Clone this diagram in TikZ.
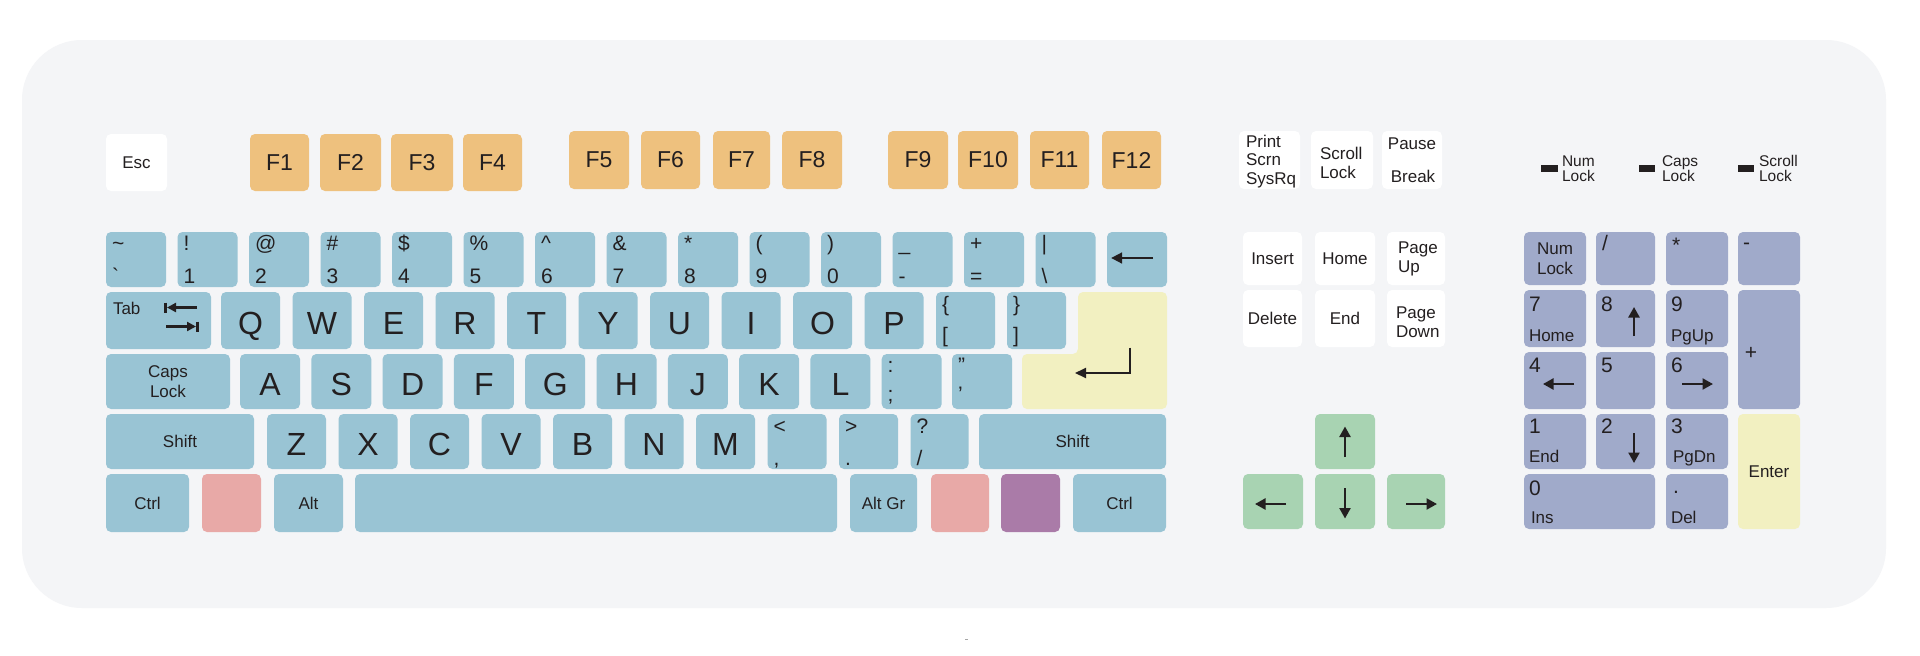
\documentclass[tikz,border=0pt]{standalone}
\usepackage{fontspec}
\setmainfont{Liberation Sans}
\usetikzlibrary{arrows.meta}
\definecolor{panel}{HTML}{F4F5F7}
\definecolor{kblue}{HTML}{99C4D4}
\definecolor{korange}{HTML}{EEC17E}
\definecolor{kyellow}{HTML}{F2F0C1}
\definecolor{kpink}{HTML}{E8A9A7}
\definecolor{kpurple}{HTML}{AA7BA8}
\definecolor{kgreen}{HTML}{A8D3B2}
\definecolor{knum}{HTML}{A0AACA}
\definecolor{ktext}{HTML}{231F20}
\newcommand\kfL{\fontsize{32}{38}\selectfont}
\newcommand\kfF{\fontsize{23}{28}\selectfont}
\newcommand\kfS{\fontsize{21}{25}\selectfont}
\newcommand\kfM{\fontsize{17}{20}\selectfont}
\newcommand\kfT{\fontsize{15.5}{16}\selectfont}
% key: name x1 y1 x2 y2 colour font text
\newcommand\kb[8]{\node[keybox,fill=#6,font=#7,minimum width=#4pt-#2pt,minimum height=#5pt-#3pt] (#1) at ({(#2+#4)/2},{(#3+#5)/2}) {#8};}
% letter key: name x1 y1 x2 y2 letter
\newcommand\lk[6]{\node[keybox,fill=kblue,font=\kfL,text height=27pt,text depth=0pt,minimum width=#4pt-#2pt,minimum height=#5pt-#3pt] (#1) at ({(#2+#4)/2},{(#3+#5)/2}) {#6};}
% dual key: name x1 y1 x2 y2 upper lower upper-offset lower-offset
\newcommand\dk[9]{\kb{#1}{#2}{#3}{#4}{#5}{kblue}{}{}
  \node[lbl,font=\kfS,anchor=base west] (#1u) at ([shift={(6,#8)}]#1.north west) {#6};
  \node[lbl,font=\kfS,anchor=base west] (#1l) at ([shift={(6,-#9)}]#1.south west) {#7};}
\begin{document}
\begin{tikzpicture}[x=1pt,y=-1pt,
  keybox/.style={rounded corners=5pt,inner sep=0pt,outer sep=0pt,text=ktext,align=center},
  lbl/.style={inner sep=0pt,outer sep=0pt,text=ktext},
  arr/.style={draw=ktext,line width=2.3pt,-{Triangle[length=10.5pt,width=11pt]}},
  bsarr/.style={draw=ktext,line width=2.7pt,-{Triangle[length=11pt,width=10.5pt]}},
  sarr/.style={draw=ktext,line width=2.2pt,-{Triangle[length=9pt,width=9pt]}},
  earr/.style={draw=ktext,line width=2.1pt,-{Triangle[length=11pt,width=10pt]}},
  bar/.style={draw=ktext,line width=2.2pt}]
\useasboundingbox (0,0) rectangle (1920,656);
\fill[white] (0,0) rectangle (1920,656);
\fill[panel,rounded corners=60pt] (22,40) rectangle (1886,608);
\fill[black!35] (965,638.5) rectangle (968,640);

% ---------- function row
\kb{esc}{106}{134}{167}{191}{white}{\kfM}{Esc}
\kb{f1}{250}{134}{309}{191}{korange}{\kfF}{F1}
\kb{f2}{320}{134}{381}{191}{korange}{\kfF}{F2}
\kb{f3}{391}{134}{453}{191}{korange}{\kfF}{F3}
\kb{f4}{463}{134}{522}{191}{korange}{\kfF}{F4}
\kb{f5}{569}{131}{629}{189}{korange}{\kfF}{F5}
\kb{f6}{641}{131}{700}{189}{korange}{\kfF}{F6}
\kb{f7}{713}{131}{770}{189}{korange}{\kfF}{F7}
\kb{f8}{782}{131}{842}{189}{korange}{\kfF}{F8}
\kb{f9}{888}{131}{948}{189}{korange}{\kfF}{F9}
\kb{f10}{958}{131}{1018}{189}{korange}{\kfF}{F10}
\kb{f11}{1030}{131}{1089}{189}{korange}{\kfF}{F11}
\kb{f12}{1102}{131}{1161}{189}{korange}{\kfF}{F12}

% ---------- number row
\dk{kgr}{106}{232}{166}{287}{\textasciitilde}{\textasciigrave}{18}{4}
\dk{k1}{177.5}{232}{237.5}{287}{!}{1}{18}{4}
\dk{k2}{249}{232}{309}{287}{@}{2}{18}{4}
\dk{k3}{320.5}{232}{380.5}{287}{\#}{3}{18}{4}
\dk{k4}{392}{232}{452}{287}{\$}{4}{18}{4}
\dk{k5}{463.5}{232}{523.5}{287}{\%}{5}{18}{4}
\dk{k6}{535}{232}{595}{287}{\textasciicircum}{6}{18}{4}
\dk{k7}{606.5}{232}{666.5}{287}{\&}{7}{18}{4}
\dk{k8}{678}{232}{738}{287}{*}{8}{18}{4}
\dk{k9}{749.5}{232}{809.5}{287}{(}{9}{18}{4}
\dk{k0}{821}{232}{881}{287}{)}{0}{18}{4}
\dk{kmin}{892.5}{232}{952.5}{287}{\_}{-}{18}{4}
\dk{keq}{964}{232}{1024}{287}{+}{=}{18}{4}
\dk{kbsl}{1035.5}{232}{1095.5}{287}{|}{\textbackslash}{18}{4}
\kb{kbs}{1107}{232}{1167}{287}{kblue}{}{}
\coordinate (bs1) at (1153,258);
\coordinate (bs2) at (1111,258);
\draw[bsarr] (bs1) -- (bs2);

% ---------- qwerty row
\kb{ktab}{106}{292}{211}{349}{kblue}{}{}
\node[lbl,font=\kfM,anchor=base west] (tabl) at (113,314) {Tab};
\coordinate (ta1) at (197,307.5); \coordinate (ta2) at (167,307.5);
\coordinate (tb1) at (165.5,302.5); \coordinate (tb2) at (165.5,312.5);
\draw[sarr] (ta1) -- (ta2); \draw[bar] (tb1) -- (tb2);
\coordinate (tc1) at (166,326.5); \coordinate (tc2) at (196,326.5);
\coordinate (td1) at (197.5,321.5); \coordinate (td2) at (197.5,331.5);
\draw[sarr] (tc1) -- (tc2); \draw[bar] (td1) -- (td2);
\lk{kq}{221}{292}{280}{349}{Q}
\lk{kw}{292.5}{292}{351.5}{349}{W}
\lk{ke}{364}{292}{423}{349}{E}
\lk{kr}{435.5}{292}{494.5}{349}{R}
\lk{kt}{507}{292}{566}{349}{T}
\lk{ky}{578.5}{292}{637.5}{349}{Y}
\lk{ku}{650}{292}{709}{349}{U}
\lk{ki}{721.5}{292}{780.5}{349}{I}
\lk{ko}{793}{292}{852}{349}{O}
\lk{kp}{864.5}{292}{923.5}{349}{P}
\dk{klb}{936}{292}{995}{349}{\{}{[}{19}{7}
\dk{krb}{1007}{292}{1066}{349}{\}}{]}{19}{7}
% enter (L shape)
\fill[kyellow,rounded corners=5pt] (1120,292) -- (1167,292) -- (1167,409) -- (1022,409) -- (1022,354) -- (1078,354) -- (1078,292) -- cycle;
\coordinate (en1) at (1130,347.5); \coordinate (en2) at (1130,373); \coordinate (en3) at (1075,373);
\draw[earr] (en1) -- (en2) -- (en3);

% ---------- home row
\kb{kcaps}{106}{354}{230}{409}{kblue}{\kfM}{Caps\\Lock}
\lk{ka}{240}{354}{300}{409}{A}
\lk{ks}{311.3}{354}{371.3}{409}{S}
\lk{kd}{382.6}{354}{442.6}{409}{D}
\lk{kf}{453.9}{354}{513.9}{409}{F}
\lk{kg}{525.2}{354}{585.2}{409}{G}
\lk{kh}{596.5}{354}{656.5}{409}{H}
\lk{kj}{667.8}{354}{727.8}{409}{J}
\lk{kk}{739.1}{354}{799.1}{409}{K}
\lk{kl}{810.4}{354}{870.4}{409}{L}
\dk{ksc}{881.7}{354}{941.7}{409}{:}{;}{18}{8}
\dk{kqt}{952}{354}{1012}{409}{"}{'}{18}{8}

% ---------- shift row
\kb{klsh}{106}{414}{254}{469}{kblue}{\kfM}{Shift}
\lk{kz}{267}{414}{326}{469}{Z}
\lk{kx}{338.5}{414}{397.5}{469}{X}
\lk{kc}{410}{414}{469}{469}{C}
\lk{kv}{481.5}{414}{540.5}{469}{V}
\lk{kbb}{553}{414}{612}{469}{B}
\lk{kn}{624.5}{414}{683.5}{469}{N}
\lk{km}{696}{414}{755}{469}{M}
\dk{klt}{767.5}{414}{826.5}{469}{<}{,}{19}{4}
\dk{kgt}{839}{414}{898}{469}{>}{.}{19}{4}
\dk{kqm}{910.5}{414}{968.5}{469}{?}{/}{19}{4}
\kb{krsh}{979}{414}{1166}{469}{kblue}{\kfM}{Shift}

% ---------- bottom row
\kb{klct}{106}{474}{189}{532}{kblue}{\kfM}{Ctrl}
\kb{klwin}{202}{474}{261}{532}{kpink}{}{}
\kb{kalt}{274}{474}{343}{532}{kblue}{\kfM}{Alt}
\kb{kspc}{355}{474}{837}{532}{kblue}{}{}
\kb{kagr}{850}{474}{917}{532}{kblue}{\kfM}{Alt Gr}
\kb{krwin}{931}{474}{989}{532}{kpink}{}{}
\kb{kmenu}{1001}{474}{1060}{532}{kpurple}{}{}
\kb{krct}{1073}{474}{1166}{532}{kblue}{\kfM}{Ctrl}

% ---------- navigation cluster
\kb{kprt}{1239}{131}{1300}{189}{white}{}{}
\node[lbl,font=\kfM,anchor=base west] (prt1) at (1246,147) {Print};
\node[lbl,font=\kfM,anchor=base west] (prt2) at (1246,165.5) {Scrn};
\node[lbl,font=\kfM,anchor=base west] (prt3) at (1246,184) {SysRq};
\kb{kscr}{1311}{131}{1373}{189}{white}{}{}
\node[lbl,font=\kfM,anchor=base west] (scr1) at (1320,159) {Scroll};
\node[lbl,font=\kfM,anchor=base west] (scr2) at (1320,178) {Lock};
\kb{kpau}{1382}{131}{1442}{189}{white}{}{}
\node[lbl,font=\kfM,anchor=base] (pau1) at (1412,149) {Pause};
\node[lbl,font=\kfM,anchor=base] (pau2) at (1413,182) {Break};

\kb{kins}{1243}{232}{1302}{285}{white}{\kfM}{Insert}
\kb{khom}{1315}{232}{1375}{285}{white}{\kfM}{Home}
\kb{kpgu}{1387}{232}{1445}{285}{white}{}{}
\node[lbl,font=\kfM,anchor=base west] (pgu1) at (1398,253) {Page};
\node[lbl,font=\kfM,anchor=base west] (pgu2) at (1398,272) {Up};
\kb{kdel}{1243}{290}{1302}{347}{white}{\kfM}{Delete}
\kb{kend}{1315}{290}{1375}{347}{white}{\kfM}{End}
\kb{kpgd}{1387}{290}{1445}{347}{white}{}{}
\node[lbl,font=\kfM,anchor=base west] (pgd1) at (1396,318) {Page};
\node[lbl,font=\kfM,anchor=base west] (pgd2) at (1396,337) {Down};

% arrows
\kb{kup}{1315}{414}{1375}{469}{kgreen}{}{}
\kb{klf}{1243}{474}{1303}{529}{kgreen}{}{}
\kb{kdn}{1315}{474}{1375}{529}{kgreen}{}{}
\kb{krt}{1387}{474}{1445}{529}{kgreen}{}{}
\coordinate (up1) at (1345,457); \coordinate (up2) at (1345,426.5);
\coordinate (dn1) at (1345,488); \coordinate (dn2) at (1345,518.5);
\coordinate (lf1) at (1286,504); \coordinate (lf2) at (1255,504);
\coordinate (rt1) at (1406,504); \coordinate (rt2) at (1437,504);
\draw[arr] (up1) -- (up2);
\draw[arr] (dn1) -- (dn2);
\draw[arr] (lf1) -- (lf2);
\draw[arr] (rt1) -- (rt2);

% ---------- LEDs
\fill[ktext] (1541,165) rectangle (1558,171.7);
\fill[ktext] (1639,165) rectangle (1655,171.7);
\fill[ktext] (1738,165) rectangle (1754,171.7);
\node[lbl,font=\kfT,anchor=base west] (led1a) at (1562,166) {Num};
\node[lbl,font=\kfT,anchor=base west] (led1b) at (1562,181.7) {Lock};
\node[lbl,font=\kfT,anchor=base west] (led2a) at (1662,166) {Caps};
\node[lbl,font=\kfT,anchor=base west] (led2b) at (1662,181.7) {Lock};
\node[lbl,font=\kfT,anchor=base west] (led3a) at (1759,166) {Scroll};
\node[lbl,font=\kfT,anchor=base west] (led3b) at (1759,181.7) {Lock};

% ---------- numeric keypad
\kb{nnum}{1524}{232}{1586}{285}{knum}{\kfM}{Num\\Lock}
\kb{nsl}{1596}{232}{1655}{285}{knum}{}{}
\kb{nst}{1666}{232}{1728}{285}{knum}{}{}
\kb{nmi}{1738}{232}{1800}{285}{knum}{}{}
\node[lbl,font=\kfS,anchor=base west] (nsl1) at (1602,250) {/};
\node[lbl,font=\kfS,anchor=base west] (nst1) at (1672,252) {*};
\node[lbl,font=\kfS,anchor=base west] (nmi1) at (1743,249) {-};

\kb{n7}{1524}{290}{1586}{347}{knum}{}{}
\kb{n8}{1596}{290}{1655}{347}{knum}{}{}
\kb{n9}{1666}{290}{1728}{347}{knum}{}{}
\kb{npl}{1738}{290}{1800}{409}{knum}{}{}
\node[lbl,font=\kfS,anchor=base west] (n7a) at (1529,311) {7};
\node[lbl,font=\kfM,anchor=base west] (n7b) at (1529,341) {Home};
\node[lbl,font=\kfS,anchor=base west] (n8a) at (1601,311) {8};
\coordinate (n8p) at (1634,336); \coordinate (n8q) at (1634,307);
\draw[arr] (n8p) -- (n8q);
\node[lbl,font=\kfS,anchor=base west] (n9a) at (1671,311) {9};
\node[lbl,font=\kfM,anchor=base west] (n9b) at (1671,341) {PgUp};
\node[lbl,font=\kfS] (npla) at (1751,353) {+};

\kb{n4}{1524}{352}{1586}{409}{knum}{}{}
\kb{n5}{1596}{352}{1655}{409}{knum}{}{}
\kb{n6}{1666}{352}{1728}{409}{knum}{}{}
\node[lbl,font=\kfS,anchor=base west] (n4a) at (1529,372) {4};
\coordinate (n4p) at (1574,384); \coordinate (n4q) at (1543,384);
\draw[arr] (n4p) -- (n4q);
\node[lbl,font=\kfS,anchor=base west] (n5a) at (1601,372) {5};
\node[lbl,font=\kfS,anchor=base west] (n6a) at (1671,372) {6};
\coordinate (n6p) at (1682,384); \coordinate (n6q) at (1713,384);
\draw[arr] (n6p) -- (n6q);

\kb{n1}{1524}{414}{1586}{469}{knum}{}{}
\kb{n2}{1596}{414}{1655}{469}{knum}{}{}
\kb{n3}{1666}{414}{1728}{469}{knum}{}{}
\kb{nent}{1738}{414}{1800}{529}{kyellow}{\kfM}{Enter}
\node[lbl,font=\kfS,anchor=base west] (n1a) at (1529,433) {1};
\node[lbl,font=\kfM,anchor=base west] (n1b) at (1529,462) {End};
\node[lbl,font=\kfS,anchor=base west] (n2a) at (1601,433) {2};
\coordinate (n2p) at (1634,433); \coordinate (n2q) at (1634,463);
\draw[arr] (n2p) -- (n2q);
\node[lbl,font=\kfS,anchor=base west] (n3a) at (1671,433) {3};
\node[lbl,font=\kfM,anchor=base west] (n3b) at (1673,462) {PgDn};

\kb{n0}{1524}{474}{1655}{529}{knum}{}{}
\kb{ndt}{1666}{474}{1728}{529}{knum}{}{}
\node[lbl,font=\kfS,anchor=base west] (n0a) at (1529,495) {0};
\node[lbl,font=\kfM,anchor=base west] (n0b) at (1531,523) {Ins};
\node[lbl,font=\kfS,anchor=base west] (ndta) at (1673,493) {.};
\node[lbl,font=\kfM,anchor=base west] (ndtb) at (1671,523) {Del};
\end{tikzpicture}
\end{document}
